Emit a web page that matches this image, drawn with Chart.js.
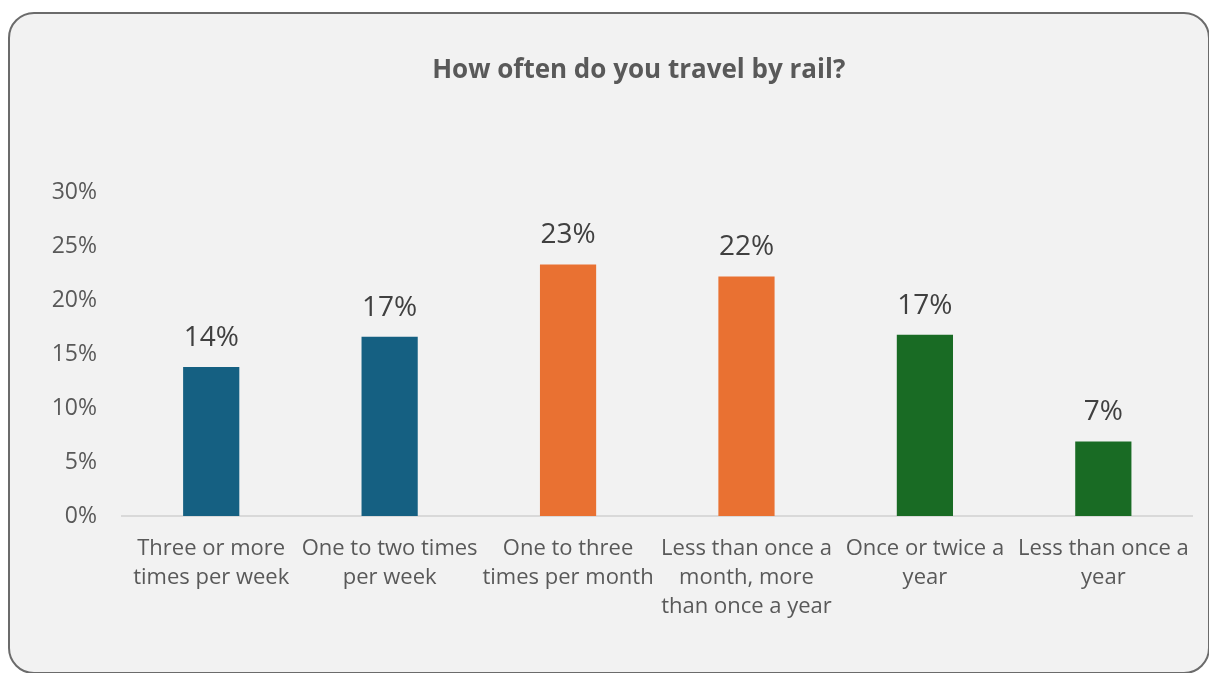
<!DOCTYPE html>
<html>
<head>
<meta charset="utf-8">
<script src="https://cdn.jsdelivr.net/npm/chart.js@4.4.1/dist/chart.umd.min.js"></script>
<style>
  html, body { margin: 0; padding: 0; background: #ffffff; }
  .card {
    position: absolute;
    left: 8px;
    top: 12px;
    width: 1202px;
    height: 662px;
    box-sizing: border-box;
    border: 2px solid #6b6b6b;
    border-radius: 26px;
    background: #f2f2f2;
    overflow: hidden;
  }
  .card canvas { display: block; }
</style>
</head>
<body>
<div class="card">
  <canvas id="railChart" width="1198" height="658"></canvas>
</div>
<script>
  // survey answers, one bar each
  const categories = [
    ["Three or more", "times per week"],
    ["One to two times", "per week"],
    ["One to three", "times per month"],
    ["Less than once a", "month, more", "than once a year"],
    ["Once or twice a", "year"],
    ["Less than once a", "year"]
  ];
  const shares = [13.8, 16.6, 23.3, 22.2, 16.8, 6.9];
  const barColors = ["#156082", "#156082", "#E97132", "#E97132", "#196B24", "#196B24"];
  const yTicks = [0, 5, 10, 15, 20, 25, 30];

  const fontFamily = "'Open Sans', 'Noto Sans', sans-serif";

  // value labels above each bar
  const valueLabels = {
    id: "valueLabels",
    afterDatasetsDraw(chart) {
      const ctx = chart.ctx;
      const meta = chart.getDatasetMeta(0);
      ctx.save();
      ctx.font = "28px " + fontFamily;
      ctx.fillStyle = "#404040";
      ctx.textAlign = "center";
      ctx.textBaseline = "bottom";
      meta.data.forEach((bar, i) => {
        ctx.fillText(Math.round(shares[i]) + "%", bar.x, bar.y - 15);
      });
      ctx.restore();
    }
  };

  // centre the title a little right of the canvas middle
  const titleOffset = {
    id: "titleOffset",
    afterLayout(chart) {
      const t = chart.titleBlock;
      if (t) {
        t.left = 75;
        t.right = chart.chartArea.right;
      }
    }
  };

  new Chart(document.getElementById("railChart"), {
    type: "bar",
    data: {
      labels: categories,
      datasets: [{
        data: shares,
        backgroundColor: barColors,
        borderWidth: 0,
        barPercentage: 1,
        categoryPercentage: 0.315
      }]
    },
    options: {
      responsive: false,
      animation: false,
      layout: { padding: { left: 20, right: 15, top: 0, bottom: 0 } },
      plugins: {
        legend: { display: false },
        tooltip: { enabled: false },
        title: {
          display: true,
          text: "How often do you travel by rail?",
          color: "#595959",
          font: { family: fontFamily, size: 26, weight: "bold" },
          padding: { top: 41, bottom: 106 }
        }
      },
      scales: {
        y: {
          min: 0,
          max: 30,
          afterBuildTicks(scale) {
            scale.ticks = yTicks.map(v => ({ value: v }));
          },
          afterFit(scale) { scale.width = 92; },
          grid: { display: false, drawTicks: false },
          border: { display: false },
          ticks: {
            padding: 25,
            color: "#595959",
            font: { family: fontFamily, size: 23 },
            callback: v => v + "%"
          }
        },
        x: {
          afterFit(scale) { scale.height = 156; },
          grid: { display: false, drawTicks: false },
          border: { display: true, color: "#d9d9d9", width: 2 },
          ticks: {
            padding: 18,
            maxRotation: 0,
            autoSkip: false,
            color: "#595959",
            font: { family: fontFamily, size: 22, lineHeight: 1.32 }
          }
        }
      }
    },
    plugins: [valueLabels, titleOffset]
  });
</script>
</body>
</html>
